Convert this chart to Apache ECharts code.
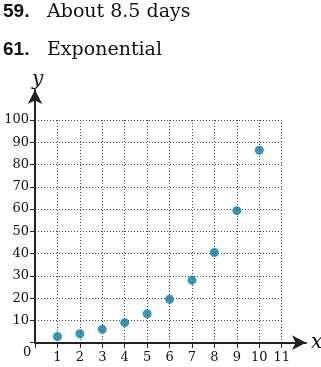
<!DOCTYPE html>
<html><head><meta charset="utf-8">
<script src="https://cdn.jsdelivr.net/npm/echarts@6/dist/echarts.min.js"></script>
<style>html,body{margin:0;padding:0;background:#fff}#c{width:321px;height:367px}</style>
</head><body><div id="c"></div>
<script>
const xValues = [1, 2, 3, 4, 5, 6, 7, 8, 9, 10];
const yValues = [2.8, 4, 6, 9, 13, 19.5, 28, 40.5, 59.3, 86.4];
const xTickMax = 11;
const yTickMax = 100;
const line1Num = '59.';
const line1Text = 'About 8.5 days';
const line2Num = '61.';
const line2Text = 'Exponential';

const serif = 'DejaVu Serif';
const axisColor = '#222';
const gridColor = '#444';

const chart = echarts.init(document.getElementById('c'), null, {renderer: 'canvas'});
chart.setOption({
  animation: false,
  grid: [
    {left: 35, right: 39.3, top: 120, bottom: 24.3},
    {left: 35, right: 15, top: 90, bottom: 24.3}
  ],
  xAxis: [
    {gridIndex: 0, type: 'value', min: 0, max: xTickMax, interval: 1,
     axisLine: {show: false},
     axisTick: {show: true, inside: false, length: 5, lineStyle: {color: axisColor, width: 1}},
     axisLabel: {margin: 8, fontFamily: serif, fontSize: 13, color: '#111',
       formatter: v => v === 0 ? '' : String(v)},
     splitLine: {show: true, lineStyle: {color: gridColor, type: [1, 2], width: 1}}},
    {gridIndex: 1, type: 'value', min: 0, max: 1,
     axisLine: {show: true, onZero: false, symbol: ['none', 'arrow'], symbolSize: [11, 14],
       lineStyle: {color: axisColor, width: 2}},
     axisTick: {show: false}, axisLabel: {show: false}, splitLine: {show: false}},
    {gridIndex: 0, type: 'value', min: 0, max: xTickMax, interval: 1,
     axisLine: {show: false},
     axisTick: {show: true, inside: true, length: 5, lineStyle: {color: axisColor, width: 1}},
     axisLabel: {show: false}, splitLine: {show: false}}
  ],
  yAxis: [
    {gridIndex: 0, type: 'value', min: 0, max: yTickMax, interval: 10,
     axisLine: {show: false},
     axisTick: {show: true, inside: false, length: 5, lineStyle: {color: axisColor, width: 1}},
     axisLabel: {margin: 6, fontFamily: serif, fontSize: 13, color: '#111',
       formatter: v => v === 0 ? '' : String(v)},
     splitLine: {show: true, lineStyle: {color: gridColor, type: [1, 2], width: 1}}},
    {gridIndex: 1, type: 'value', min: 0, max: 1,
     axisLine: {show: true, onZero: false, symbol: ['none', 'arrow'], symbolSize: [11, 14],
       lineStyle: {color: axisColor, width: 2}},
     axisTick: {show: false}, axisLabel: {show: false}, splitLine: {show: false}},
    {gridIndex: 0, type: 'value', min: 0, max: yTickMax, interval: 10,
     axisLine: {show: false},
     axisTick: {show: true, inside: true, length: 5, lineStyle: {color: axisColor, width: 1}},
     axisLabel: {show: false}, splitLine: {show: false}}
  ],
  graphic: [
    {type: 'text', left: 3, top: 2, style: {text: line1Num, font: 'bold 19px "Liberation Sans"', fill: '#111'}},
    {type: 'text', left: 47, top: 3, style: {text: line1Text, font: '19px "DejaVu Serif"', fill: '#111'}},
    {type: 'text', left: 3, top: 40, style: {text: line2Num, font: 'bold 19px "Liberation Sans"', fill: '#111'}},
    {type: 'text', left: 47, top: 41, style: {text: line2Text, font: '19px "DejaVu Serif"', fill: '#111'}},
    {type: 'text', left: 32, top: 70, style: {text: 'y', font: 'italic 20px "DejaVu Serif"', fill: '#111'}},
    {type: 'text', left: 311, top: 333, style: {text: 'x', font: 'italic 20px "DejaVu Serif"', fill: '#111'}},
    {type: 'text', left: 23, top: 346, style: {text: '0', font: '13px "DejaVu Serif"', fill: '#111'}}
  ],
  series: [{
    type: 'scatter', xAxisIndex: 0, yAxisIndex: 0,
    data: xValues.map((x, i) => [x, yValues[i]]),
    symbolSize: 9,
    itemStyle: {color: '#0a7aa0'},
    z: 5
  }]
});
</script></body></html>
